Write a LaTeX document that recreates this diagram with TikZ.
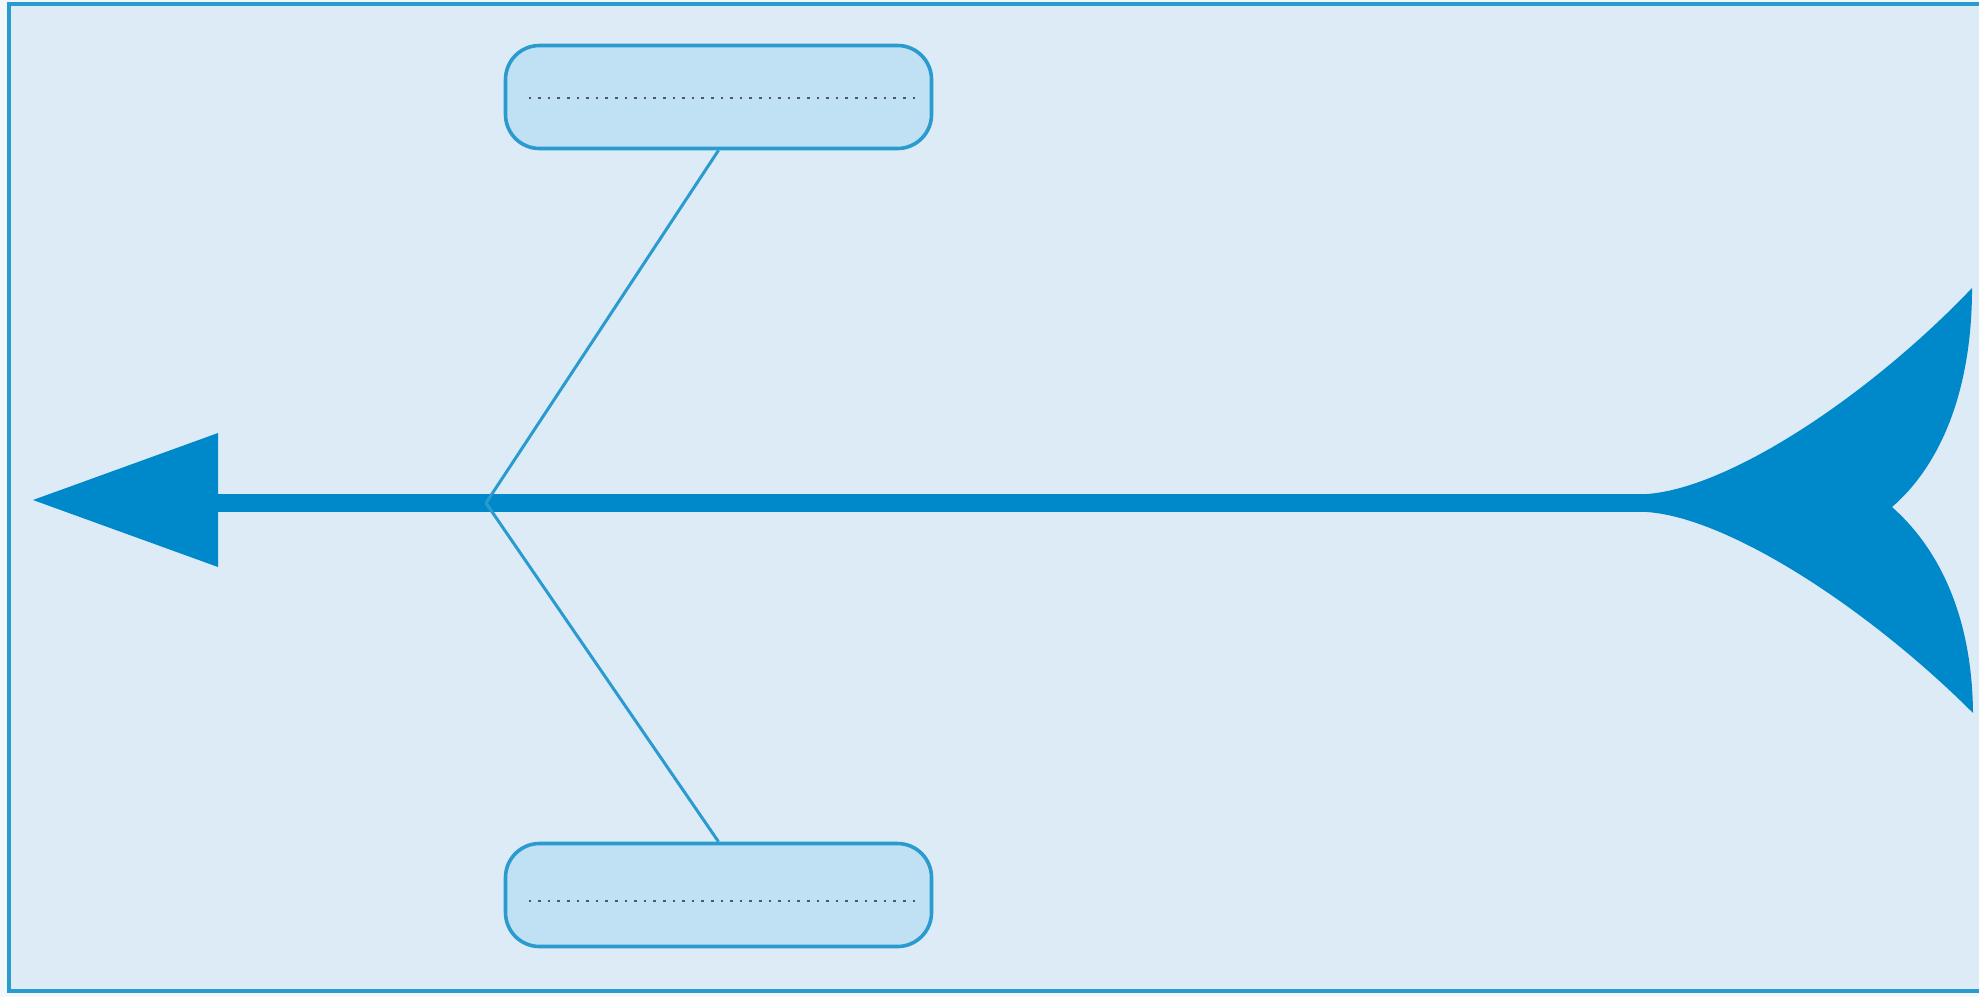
\documentclass[tikz,border=0pt]{standalone}
\begin{document}
\begin{tikzpicture}[x=0.5pt,y=-0.5pt,
  frame/.style={draw=framec,line width=2pt},
  catbox/.style={draw=framec,fill=boxc,line width=1.8pt,rounded corners=17pt,minimum width=213pt,minimum height=51.5pt,inner sep=0pt},
  bone/.style={draw=framec,line width=1.5pt,line join=round},
  spine/.style={draw=spinec,line width=9pt},
  dots/.style={draw=dotc,line width=1.3pt,dash pattern=on 1.3pt off 3.5pt}]
\definecolor{framec}{HTML}{2A9BCF}
\definecolor{bgc}{HTML}{DCEBF6}
\definecolor{boxc}{HTML}{C0E1F4}
\definecolor{spinec}{HTML}{0089CA}
\definecolor{dotc}{HTML}{4C5963}
\useasboundingbox (0,0) rectangle (1979,997);
\fill[white!60!bgc] (0,0) rectangle (1979,997);
\fill[bgc] (9,4) rectangle (1979,991);
\draw[frame] (1979,4) -- (9,4) -- (9,991) -- (1979,991);
% boxes
\node[catbox] (top) at (718.5,97) {};
\node[catbox] (bot) at (718.5,895) {};
\draw[dots] ([xshift=-95pt,yshift=-0.5pt]top.center) -- ([xshift=101pt,yshift=-0.5pt]top.center);
\draw[dots] ([xshift=-95pt,yshift=-3pt]bot.center) -- ([xshift=101pt,yshift=-3pt]bot.center);
% spine
\coordinate (J) at (486,503);
\coordinate (head) at (218,503);
\coordinate (tail) at (1650,503);
\draw[spine] (tail) -- (head);
\fill[spinec] (33,500) -- (218,433) -- (218,567) -- cycle;
\fill[spinec] (1647,494) .. controls (1730,488) and (1870,395) .. (1972,288)
  .. controls (1972,400) and (1935,470) .. (1892,507)
  .. controls (1935,545) and (1972,610) .. (1973,713)
  .. controls (1870,610) and (1730,518) .. (1647,512) -- cycle;
% bones
\draw[bone] (J) -- (top.south);
\draw[bone] (J) -- (bot.north);
\end{tikzpicture}
\end{document}
